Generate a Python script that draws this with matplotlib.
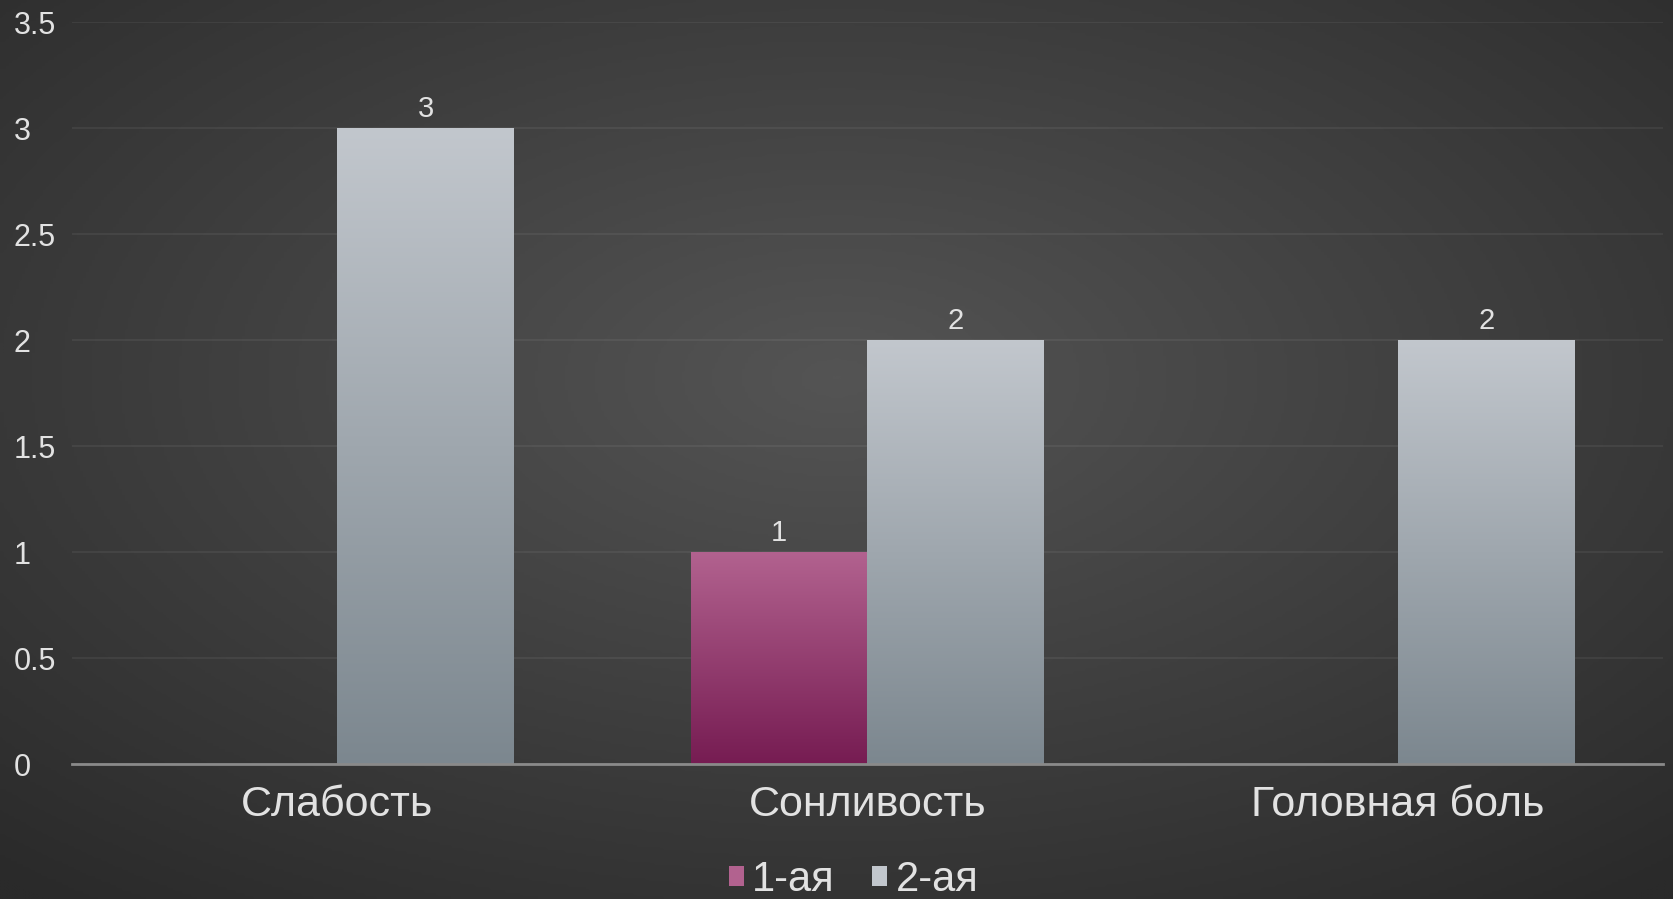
import numpy as np
import matplotlib
matplotlib.use("Agg")
import matplotlib.pyplot as plt
from matplotlib.patches import Patch
from matplotlib.colors import LinearSegmentedColormap

plt.rcParams['font.family'] = ['Liberation Sans', 'DejaVu Sans']

categories = ['Слабость', 'Сонливость', 'Головная боль']
series_names = ['1-ая', '2-ая']
first = [0, 1, 0]
second = [3, 2, 2]
yticks = [0, 0.5, 1, 1.5, 2, 2.5, 3, 3.5]

pink_top, pink_bottom = '#b2628f', '#761c52'
gray_top, gray_bottom = '#c2c7cd', '#7c878f'
text_color = '#e2e2e2'

fig = plt.figure(figsize=(16.74, 8.99), dpi=100)

# radial background, brighter toward the middle
bg = fig.add_axes([0, 0, 1, 1], zorder=-10)
yy, xx = np.mgrid[0:1:300j, 0:1:560j]
r = np.sqrt(((xx - 0.5) / 0.75) ** 2 + ((yy - 0.42) / 0.75) ** 2)
shade = np.clip(1 - r, 0, 1)
bg_cmap = LinearSegmentedColormap.from_list('bg', ['#2a2a2a', '#545454'])
bg.imshow(shade, cmap=bg_cmap, aspect='auto', extent=(0, 1, 0, 1), origin='upper')
bg.set_axis_off()

ax = fig.add_axes([0.043, 0.150, 0.9504, 0.825])
ax.patch.set_alpha(0)

x = np.arange(len(categories))
w = 1 / 3
bars1 = ax.bar(x - w / 2, first, w, color=pink_top, label=series_names[0], zorder=2)
bars2 = ax.bar(x + w / 2, second, w, color=gray_top, label=series_names[1], zorder=2)


def fill_gradient(bars, top, bottom):
    cmap = LinearSegmentedColormap.from_list('g', [bottom, top])
    grad = np.linspace(0, 1, 256).reshape(-1, 1)
    for b in bars:
        h = b.get_height()
        if h <= 0:
            continue
        x0 = b.get_x()
        im = ax.imshow(grad, cmap=cmap, aspect='auto', origin='lower',
                       extent=(x0, x0 + b.get_width(), 0, h), zorder=3)
        im.set_clip_path(b)


fill_gradient(bars1, pink_top, pink_bottom)
fill_gradient(bars2, gray_top, gray_bottom)

for bars, vals in ((bars1, first), (bars2, second)):
    for b, v in zip(bars, vals):
        if v == 0:
            continue
        ax.annotate(f'{v:g}', (b.get_x() + b.get_width() / 2, v),
                    xytext=(0, 4), textcoords='offset points',
                    ha='center', va='bottom', fontsize=21, color=text_color)

ax.set_xlim(-0.5, 2.5)
ax.set_ylim(0, 3.5)
ax.set_yticks(yticks)
ax.set_yticklabels([f'{t:g}' for t in yticks])
for lbl in ax.get_yticklabels():
    lbl.set_horizontalalignment('left')
ax.set_xticks(x)
ax.set_xticklabels(categories)

ax.tick_params(axis='y', length=0, pad=42, labelsize=22, labelcolor=text_color)
ax.tick_params(axis='x', length=0, pad=15, labelsize=31, labelcolor=text_color)

ax.yaxis.grid(True, color='#ffffff', alpha=0.06, linewidth=1.5)
ax.set_axisbelow(True)
for s in ('top', 'right', 'left'):
    ax.spines[s].set_visible(False)
ax.spines['bottom'].set_color('#8a8a8a')
ax.spines['bottom'].set_linewidth(2)
ax.spines['bottom'].set_zorder(4)

handles = [Patch(facecolor=pink_top, edgecolor='none'),
           Patch(facecolor=gray_top, edgecolor='none')]
fig.legend(handles, series_names, loc='center', bbox_to_anchor=(0.51, 0.021),
           ncol=2, frameon=False, fontsize=30, labelcolor=text_color,
           handlelength=0.36, handleheight=0.36, handletextpad=0.2,
           columnspacing=0.9, borderpad=0)

fig.savefig('out.png', dpi=100)
